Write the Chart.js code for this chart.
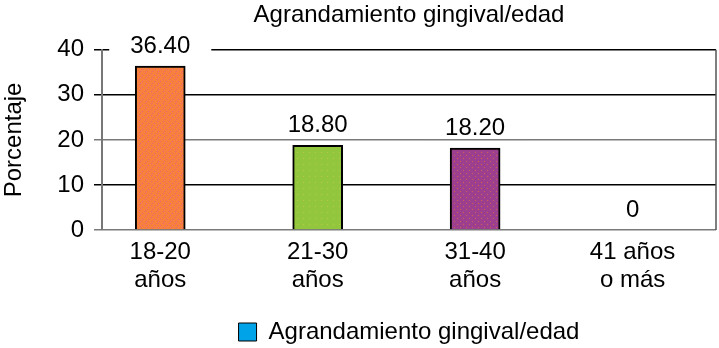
<!DOCTYPE html>
<html lang="es">
<head>
  <meta charset="UTF-8">
  <title>Agrandamiento gingival/edad</title>
  <script src="https://cdn.jsdelivr.net/npm/chart.js"></script>
  <style>
    html, body { margin: 0; padding: 0; background: #fff; }
    #wrap { width: 719px; height: 348px; }
  </style>
</head>
<body>
  <div id="wrap"><canvas id="chart"></canvas></div>

  <script>
    // data
    const groups = [['18-20', 'años'], ['21-30', 'años'], ['31-40', 'años'], ['41 años', 'o más']];
    const percents = [36.40, 18.80, 18.20, 0];
    const valueLabels = ['36.40', '18.80', '18.20', '0'];
    const yTicks = [0, 10, 20, 30, 40];
    const seriesName = 'Agrandamiento gingival/edad';

    const FONT = '"Liberation Sans", Arial, sans-serif';
    const SIZE = 24;

    // stippled fills like the old office chart
    function stipple(base, dot, spots) {
      const c = document.createElement('canvas');
      c.width = 6; c.height = 6;
      const g = c.getContext('2d');
      g.fillStyle = base;
      g.fillRect(0, 0, 6, 6);
      g.fillStyle = dot;
      spots.forEach(p => g.fillRect(p[0], p[1], 1, 1));
      return g.createPattern(c, 'repeat');
    }
    const fills = [
      stipple('#F7803E', '#E8647A', [[1, 1], [4, 3], [2, 5]]),
      stipple('#92C63D', '#B9C84A', [[3, 2]]),
      stipple('#9B3F8E', '#D4604E', [[1, 2], [4, 5]]),
      '#00A2E8'
    ];

    // labels above the bars, on a white patch so grid lines break behind them
    const barLabels = {
      id: 'barLabels',
      afterDatasetsDraw(chart) {
        const ctx = chart.ctx;
        const meta = chart.getDatasetMeta(0);
        ctx.save();
        ctx.font = SIZE + 'px ' + FONT;
        ctx.textAlign = 'center';
        ctx.textBaseline = 'middle';
        meta.data.forEach((bar, i) => {
          const y = bar.y - 20;
          const w = ctx.measureText(valueLabels[i]).width + 42;
          ctx.fillStyle = '#fff';
          ctx.fillRect(bar.x - w / 2, y - 11, w, 22);
          ctx.fillStyle = '#000';
          ctx.fillText(valueLabels[i], bar.x, y);
        });
        ctx.restore();
      }
    };

    // right edge of the plot frame
    const frame = {
      id: 'frame',
      beforeDatasetsDraw(chart) {
        const a = chart.chartArea, ctx = chart.ctx;
        ctx.save();
        ctx.strokeStyle = '#555';
        ctx.lineWidth = 1.5;
        ctx.beginPath();
        ctx.moveTo(a.right, a.top);
        ctx.lineTo(a.right, a.bottom);
        ctx.stroke();
        ctx.restore();
      }
    };

    new Chart(document.getElementById('chart'), {
      type: 'bar',
      data: {
        datasets: [{
          label: seriesName,
          data: percents.map((v, i) => ({ x: i, y: v })),
          backgroundColor: fills.slice(0, 3).concat(['#fff']),
          borderColor: '#000',
          borderWidth: 2,
          borderSkipped: 'start',
          barThickness: 50
        }]
      },
      plugins: [frame, barLabels],
      options: {
        responsive: true,
        maintainAspectRatio: false,
        animation: false,
        layout: { padding: { top: 0, right: 3, bottom: -6, left: 0 } },
        plugins: {
          tooltip: { enabled: false },
          title: {
            display: true,
            text: seriesName,
            fullSize: false,
            color: '#000',
            font: { family: FONT, size: SIZE, weight: 'normal' },
            padding: { top: 1, bottom: 20 }
          },
          legend: {
            position: 'bottom',
            fullSize: false,
            labels: {
              color: '#000',
              font: { family: FONT, size: SIZE },
              boxWidth: 18,
              boxHeight: 18,
              padding: 10,
              generateLabels: () => [{
                text: seriesName,
                fillStyle: fills[3],
                strokeStyle: '#000',
                lineWidth: 1,
                datasetIndex: 0
              }]
            }
          }
        },
        scales: {
          x: {
            type: 'linear',
            offset: false,
            min: -0.37,
            max: 3.53,
            grid: { display: false, drawTicks: false },
            border: { display: false },
            afterBuildTicks: s => { s.ticks = groups.map((g, i) => ({ value: i })); },
            afterFit: s => { s.height = 80; },
            ticks: {
              color: '#000',
              font: { family: FONT, size: SIZE, lineHeight: 1.15 },
              padding: 9,
              maxRotation: 0,
              autoSkip: false,
              callback: v => groups[v]
            }
          },
          y: {
            min: 0,
            max: 40,
            afterBuildTicks: s => { s.ticks = yTicks.map(v => ({ value: v })); },
            afterFit: s => { s.width = 102; },
            grid: {
              color: c => (c.tick && (c.tick.value === 0 || c.tick.value === 20)) ? '#7a7a7a' : '#000',
              lineWidth: 1.5,
              tickLength: 8
            },
            border: { display: true, color: '#777', width: 2 },
            title: {
              display: true,
              text: 'Porcentaje',
              color: '#000',
              font: { family: FONT, size: SIZE },
              padding: 0
            },
            ticks: {
              color: '#000',
              font: { family: FONT, size: SIZE },
              padding: 10
            }
          }
        }
      }
    });
  </script>
</body>
</html>
